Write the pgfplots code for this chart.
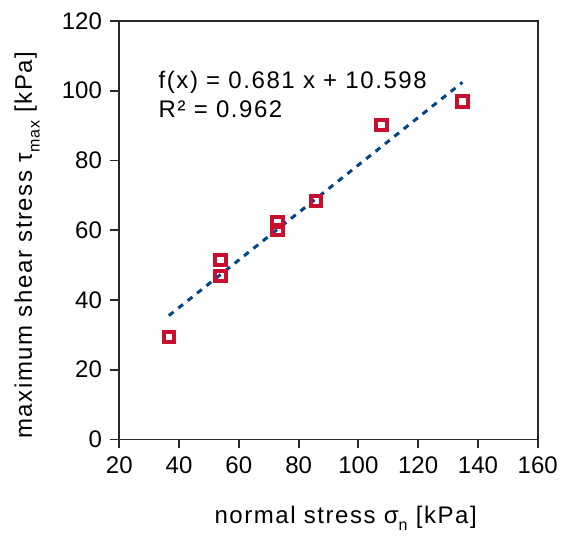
\documentclass[border=0pt]{standalone}
\usepackage{pgfplots}
\pgfplotsset{compat=1.18}
\usepackage{fontspec}
\setmainfont{Liberation Sans}
\definecolor{ptred}{RGB}{200,16,46}
\definecolor{trendblue}{RGB}{0,69,134}
\definecolor{axgray}{RGB}{40,40,40}
\newcommand{\lblfont}{\fontsize{12}{14.4}\selectfont\addfontfeature{LetterSpace=6.5}}
\newcommand{\subs}[1]{\raisebox{-0.6ex}{\fontsize{8}{9}\selectfont\addfontfeature{LetterSpace=6.5}#1}}
\begin{document}
\fontsize{12}{14.4}\selectfont
\begin{tikzpicture}
\begin{axis}[
  scale only axis,
  width=209.2pt, height=209.2pt,
  xmin=20, xmax=160, ymin=0, ymax=120,
  xtick={20,40,...,160}, ytick={0,20,...,120},
  tick align=outside, tick pos=left,
  major tick length=4.5pt,
  axis line style={axgray, line width=0.9pt},
  every tick/.style={axgray, line width=0.9pt},
  /pgf/number format/assume math mode=true,
  ticklabel style={font=\fontsize{12}{14.4}\selectfont},
  label style={font=\lblfont},
  xlabel={normal stress σ\subs{n} [kPa]},
  ylabel={maximum shear stress τ\subs{max} [kPa]},
  xlabel style={at={(axis description cs:0.541,-0.2001)}, anchor=base, inner sep=0pt},
  ylabel style={at={(axis description cs:-0.2087,0.4645)}, anchor=base, rotate=0, inner sep=0pt},
  clip=false,
]
\addplot[trendblue, line width=1.5pt, dash pattern=on 3pt off 3pt, forget plot]
  coordinates {(36.6,35.5) (134.8,102.4)};
\addplot[only marks, mark=square, mark size=2.6pt, mark options={ptred, line width=2pt}]
  coordinates {
    (36.6,29.4)
    (53.9,51.4)
    (53.9,46.8)
    (73.0,62.4)
    (73.0,60.0)
    (85.8,68.4)
    (107.8,90.2)
    (134.8,96.9)
  };
\node[anchor=base west, inner sep=0pt, font=\lblfont] at (axis cs:33.05,100.7) {f(x) = 0.681 x + 10.598};
\node[anchor=base west, inner sep=0pt, font=\lblfont] at (axis cs:33.05,92.4) {R² = 0.962};
\end{axis}
\pgfresetboundingbox
\path ([shift={(-59.65pt,-47.85pt)}]current axis.south west) rectangle ([shift={(12.15pt,10.5pt)}]current axis.north east);
\end{tikzpicture}
\end{document}
